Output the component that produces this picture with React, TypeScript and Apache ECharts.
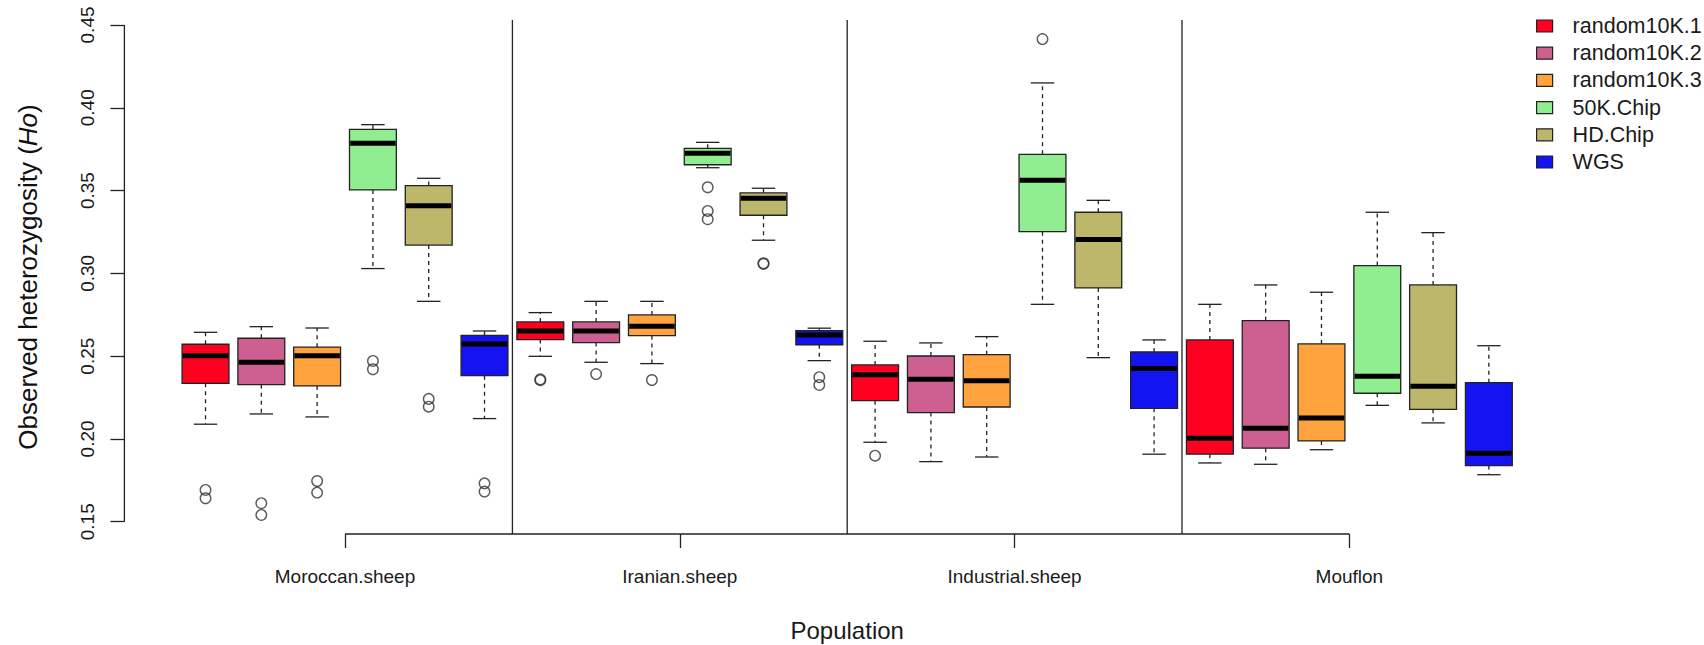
import React, { useEffect, useRef } from "react";
import * as echarts from "echarts";

const populations = ["Moroccan.sheep", "Iranian.sheep", "Industrial.sheep", "Mouflon"];
const methods = ["random10K.1", "random10K.2", "random10K.3", "50K.Chip", "HD.Chip", "WGS"];
const methodColors = ["#FF0020", "#CD6090", "#FFA33F", "#90EE90", "#BDB76B", "#1414F2"];
const yTicks = [0.15, 0.2, 0.25, 0.3, 0.35, 0.4, 0.45];
const xTicks = [1, 2, 3, 4];
const separators = [1.5, 2.5, 3.5];

// [min whisker, Q1, median, Q3, max whisker] for Moroccan, Iranian, Industrial, Mouflon
const random10K1 = [
  [0.2089, 0.2336, 0.2503, 0.2572, 0.2644],
  [0.2499, 0.26, 0.2652, 0.2707, 0.2763],
  [0.198, 0.2231, 0.2388, 0.2447, 0.259],
  [0.1855, 0.1908, 0.2004, 0.2598, 0.2813],
];
const random10K2 = [
  [0.2151, 0.2328, 0.2463, 0.2608, 0.2678],
  [0.2463, 0.2582, 0.2652, 0.2707, 0.2831],
  [0.1863, 0.2159, 0.236, 0.2501, 0.258],
  [0.1847, 0.1944, 0.2065, 0.2714, 0.293],
];
const random10K3 = [
  [0.2133, 0.232, 0.2503, 0.2554, 0.267],
  [0.2455, 0.2624, 0.268, 0.2749, 0.2831],
  [0.1891, 0.2193, 0.2352, 0.2509, 0.2618],
  [0.1935, 0.1988, 0.2127, 0.2574, 0.2886],
];
const chip50K = [
  [0.3029, 0.3504, 0.3786, 0.387, 0.3898],
  [0.3638, 0.3656, 0.3725, 0.3755, 0.3791],
  [0.2813, 0.3252, 0.3562, 0.3719, 0.415],
  [0.2203, 0.2276, 0.2379, 0.3047, 0.3369],
];
const chipHD = [
  [0.2831, 0.3171, 0.3409, 0.353, 0.3574],
  [0.32, 0.3351, 0.3453, 0.3486, 0.3514],
  [0.2491, 0.2912, 0.3204, 0.3369, 0.3441],
  [0.2097, 0.2179, 0.2318, 0.293, 0.3246],
];
const wgs = [
  [0.2123, 0.2382, 0.2574, 0.2626, 0.2652],
  [0.2473, 0.2569, 0.2628, 0.2654, 0.2669],
  [0.1908, 0.2185, 0.2425, 0.2525, 0.2598],
  [0.1784, 0.1839, 0.1914, 0.234, 0.2563],
];
const boxStats = [random10K1, random10K2, random10K3, chip50K, chipHD, wgs];

// outliers: [population index, value]
const out10K1 = [[0, 0.1692], [0, 0.1642], [1, 0.236], [1, 0.2355], [2, 0.1899]];
const out10K2 = [[0, 0.1612], [0, 0.1541], [1, 0.2392]];
const out10K3 = [[0, 0.1746], [0, 0.1676], [1, 0.2356]];
const out50K = [[0, 0.2471], [0, 0.2421], [1, 0.352], [1, 0.3377], [1, 0.3327], [2, 0.4415]];
const outHD = [[0, 0.2242], [0, 0.2195], [1, 0.3061], [1, 0.3058]];
const outWGS = [[0, 0.1732], [0, 0.1682], [1, 0.2373], [1, 0.2326]];
const outlierSets = [out10K1, out10K2, out10K3, out50K, outHD, outWGS];

const Y_MIN = 0.1426;
const Y_MAX = 0.453;
const X_MIN = 0.341;
const X_MAX = 4.659;
const BOX_HALF = 0.07;
const CAP_HALF = 0.035;
const FONT = "'Liberation Sans', Arial, Helvetica, sans-serif";
const INK = "#222";

const offsetOf = (m: number) => (m - 2.5) / 6;

export default function App() {
  const ref = useRef<HTMLDivElement>(null);

  useEffect(() => {
    if (!ref.current) return;
    const chart = echarts.init(ref.current, undefined, { renderer: "svg" });

    const boxSeries = methods.map((name, m) => ({
      type: "custom",
      name,
      itemStyle: { color: methodColors[m] },
      data: boxStats[m].map((s, p) => [p + 1, ...s]),
      encode: { x: 0, y: [1, 2, 3, 4, 5] },
      renderItem: (params: any, api: any) => {
        const xc = api.value(0) + offsetOf(m);
        const lo = api.value(1);
        const q1 = api.value(2);
        const md = api.value(3);
        const q3 = api.value(4);
        const hi = api.value(5);
        const tl = api.coord([xc - BOX_HALF, q3]);
        const br = api.coord([xc + BOX_HALF, q1]);
        const cHi = api.coord([xc, hi]);
        const cLo = api.coord([xc, lo]);
        const cQ3 = api.coord([xc, q3]);
        const cQ1 = api.coord([xc, q1]);
        const capL = api.coord([xc - CAP_HALF, hi])[0];
        const capR = api.coord([xc + CAP_HALF, hi])[0];
        const mdY = api.coord([xc, md])[1];
        const lineStyle = { stroke: INK, lineWidth: 1.3 };
        return {
          type: "group",
          children: [
            { type: "line", shape: { x1: cQ3[0], y1: cQ3[1], x2: cHi[0], y2: cHi[1] }, style: { ...lineStyle, lineDash: [4, 4] } },
            { type: "line", shape: { x1: cQ1[0], y1: cQ1[1], x2: cLo[0], y2: cLo[1] }, style: { ...lineStyle, lineDash: [4, 4] } },
            { type: "line", shape: { x1: capL, y1: cHi[1], x2: capR, y2: cHi[1] }, style: lineStyle },
            { type: "line", shape: { x1: capL, y1: cLo[1], x2: capR, y2: cLo[1] }, style: lineStyle },
            {
              type: "rect",
              shape: { x: tl[0], y: tl[1], width: br[0] - tl[0], height: br[1] - tl[1] },
              style: { fill: methodColors[m], stroke: INK, lineWidth: 1.3 },
            },
            { type: "line", shape: { x1: tl[0] + 0.7, y1: mdY, x2: br[0] - 0.7, y2: mdY }, style: { stroke: "#000", lineWidth: 5, lineCap: "butt" } },
          ],
        };
      },
      z: 3,
    }));

    const outlierData: number[][] = [];
    outlierSets.forEach((set, m) => {
      set.forEach(([p, v]) => outlierData.push([p + 1 + offsetOf(m), v]));
    });

    const frameLines: number[][] = [
      [X_MIN, yTicks[0], X_MIN, yTicks[yTicks.length - 1]],
      [xTicks[0], Y_MIN, xTicks[xTicks.length - 1], Y_MIN],
      ...separators.map((s) => [s, Y_MIN, s, Y_MAX]),
    ];

    chart.setOption({
      animation: false,
      backgroundColor: "#fff",
      textStyle: { fontFamily: FONT },
      grid: {
        left: 124.4,
        right: 134,
        top: 20,
        bottom: 111,
        containLabel: false,
        outerBoundsMode: "none",
      },
      legend: {
        data: methods,
        orient: "vertical",
        left: 1531,
        top: 10,
        itemWidth: 16,
        itemHeight: 12,
        itemGap: 5.2,
        icon: "rect",
        itemStyle: { borderColor: INK, borderWidth: 1.2 },
        formatter: (name: string) => `{t|${name}}`,
        textStyle: {
          fontFamily: FONT,
          fontSize: 21,
          color: "#1a1a1a",
          rich: {
            t: { fontFamily: FONT, fontSize: 21.5, lineHeight: 22, color: "#1a1a1a", padding: [0, 0, 0, 15] },
          },
        },
        selectedMode: false,
      },
      xAxis: {
        type: "value",
        min: X_MIN,
        max: X_MAX,
        splitLine: { show: false },
        axisLine: { show: false },
        axisTick: { show: true, length: 14, customValues: xTicks, lineStyle: { color: INK, width: 1.3 } },
        axisLabel: {
          customValues: xTicks,
          formatter: (v: number) => populations[Math.round(v) - 1] ?? "",
          fontFamily: FONT,
          fontSize: 19,
          color: "#1a1a1a",
          margin: 33,
        },
        name: "Population",
        nameLocation: "middle",
        nameGap: 84,
        nameTextStyle: { fontFamily: FONT, fontSize: 24, color: "#1a1a1a" },
      },
      yAxis: {
        type: "value",
        min: Y_MIN,
        max: Y_MAX,
        splitLine: { show: false },
        axisLine: { show: false },
        axisTick: { show: true, length: 14, customValues: yTicks, lineStyle: { color: INK, width: 1.3 } },
        axisLabel: {
          customValues: yTicks,
          formatter: (v: number) => v.toFixed(2),
          rotate: 90,
          fontFamily: FONT,
          fontSize: 19,
          color: "#1a1a1a",
          margin: 27,
        },
        name: "Observed heterozygosity ({i|Ho})",
        nameLocation: "middle",
        nameRotate: 90,
        nameGap: 83,
        nameTextStyle: {
          fontFamily: FONT,
          fontSize: 26,
          color: "#111",
          rich: { i: { fontFamily: FONT, fontSize: 26, fontStyle: "italic", color: "#111" } },
        },
      },
      series: [
        {
          type: "custom",
          name: "frame",
          silent: true,
          data: frameLines,
          encode: { x: [0, 2], y: [1, 3] },
          renderItem: (params: any, api: any) => {
            const a = api.coord([api.value(0), api.value(1)]);
            const b = api.coord([api.value(2), api.value(3)]);
            return {
              type: "line",
              shape: { x1: a[0], y1: a[1], x2: b[0], y2: b[1] },
              style: { stroke: INK, lineWidth: 1.3 },
            };
          },
          z: 1,
        },
        ...boxSeries,
        {
          type: "scatter",
          name: "outliers",
          data: outlierData,
          symbol: "circle",
          symbolSize: 10.5,
          itemStyle: { color: "none", borderColor: "#333", borderWidth: 1.4 },
          silent: true,
          z: 4,
        },
      ],
    } as any);

    return () => chart.dispose();
  }, []);

  return (
    <div
      ref={ref}
      style={{ position: "absolute", left: 0, top: 0, width: 1704, height: 645, background: "#fff" }}
    />
  );
}
